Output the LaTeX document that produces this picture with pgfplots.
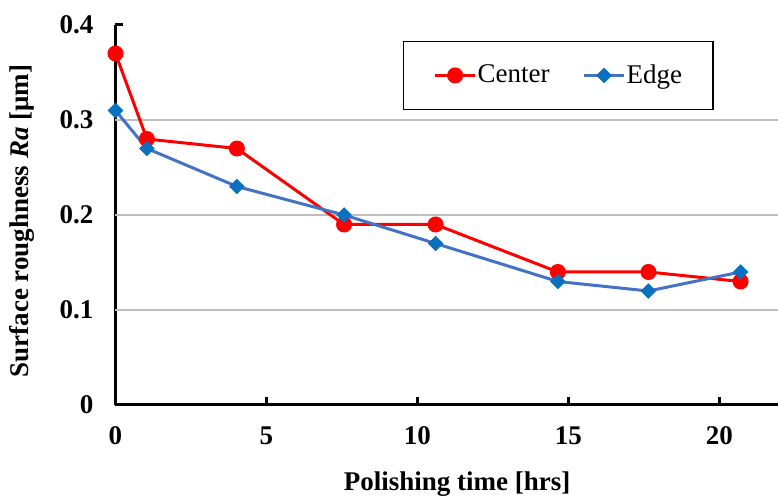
\documentclass[border=0pt]{standalone}
\usepackage{fontspec}
\setmainfont{Liberation Serif}
\usepackage{pgfplots}
\pgfplotsset{compat=1.18}
\definecolor{cred}{RGB}{255,0,0}
\definecolor{cblue}{RGB}{68,114,196}
\definecolor{cbluem}{RGB}{10,112,192}
\definecolor{cgrid}{RGB}{190,190,190}
\begin{document}
\begin{tikzpicture}
\useasboundingbox (-57.75pt,-45.5pt) rectangle (331.25pt,202.5pt);
\begin{axis}[
  scale only axis,
  width=331.25pt, height=190pt,
  xmin=0, xmax=21.94, ymin=0, ymax=0.4,
  axis lines=left,
  axis line style={-, line width=1.5pt, black},
  xtick={0,5,10,15,20},
  ytick={0,0.4},
  extra y ticks={0.1,0.2,0.3},
  extra y tick style={grid=major, major tick length=0pt},
  major grid style={cgrid, line width=1pt},
  tick style={black, line width=1.5pt},
  tick align=inside,
  major tick length=4pt,
  /pgf/number format/assume math mode=true,
  /pgf/number format/fixed,
  font=\fontsize{13.5}{16}\selectfont,
  ticklabel style={font=\fontsize{13.5}{16}\selectfont\bfseries},
  yticklabel style={xshift=-7.5pt},
  xticklabel style={yshift=-7.25pt},
  xlabel={Polishing time [hrs]},
  ylabel={Surface roughness \textit{Ra} [μm]},
  label style={font=\fontsize{13.5}{16}\selectfont\bfseries},
  xlabel style={at={(axis description cs:0.5155,-0.208)}, anchor=center},
  ylabel style={at={(axis description cs:-0.141,0.484)}, anchor=center, rotate=0},
  legend columns=2,
  legend style={at={(axis description cs:0.434,0.958)}, anchor=north west,
    draw=black, line width=0.6pt, inner xsep=15pt, inner ysep=11pt,
    font=\fontsize{13.5}{16}\selectfont,
    nodes={inner sep=0.5pt},
    /tikz/every even column/.append style={column sep=16pt}},
  legend image code/.code={\draw[mark repeat=2,mark phase=2] plot coordinates {(0pt,0pt)(10pt,0pt)(20pt,0pt)};},
]
\addplot[cred, line width=1.5pt, mark=*, mark size=3.75pt, mark options={fill=cred, draw=cred, line width=0.5pt}]
  coordinates {(0,0.37)(1.04,0.28)(4.02,0.27)(7.57,0.19)(10.6,0.19)(14.65,0.14)(17.65,0.14)(20.7,0.13)};
\addlegendentry{Center}
\addplot[cblue, line width=1.5pt, mark=square*, mark size=2.5pt, mark options={rotate=45, fill=cbluem, draw=cbluem, line width=0.5pt}]
  coordinates {(0,0.31)(1.04,0.27)(4.02,0.23)(7.57,0.20)(10.6,0.17)(14.65,0.13)(17.65,0.12)(20.7,0.14)};
\addlegendentry{Edge}
\end{axis}
\end{tikzpicture}
\end{document}
